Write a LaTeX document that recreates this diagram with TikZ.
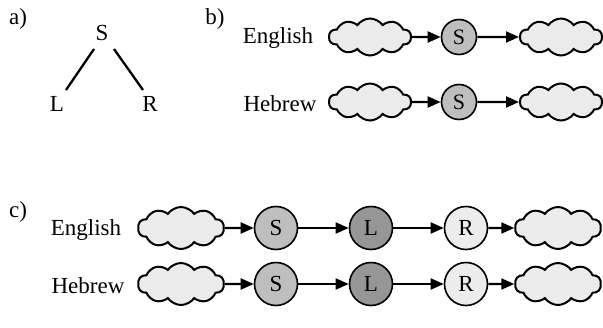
\documentclass[tikz,border=0pt]{standalone}
\usepackage{fontspec}
\setmainfont{Liberation Serif}
\usetikzlibrary{shapes.symbols,arrows.meta}
\definecolor{cloudfill}{RGB}{235,235,235}
\definecolor{sfill}{RGB}{190,190,190}
\definecolor{lfill}{RGB}{150,150,150}
\definecolor{rfill}{RGB}{236,236,236}
\begin{document}
\begin{tikzpicture}[x=1pt,y=-1pt,
  txt/.style={font=\fontsize{23}{26}\selectfont, inner sep=0pt},
  cloudbox/.style={cloud, cloud puffs=10, cloud puff arc=110, shape border rotate=18, cloud ignores aspect, draw, line width=2pt, fill=cloudfill, minimum width=82pt, minimum height=37pt, inner sep=0pt},
  cloudc/.style={cloudbox, minimum width=86pt, minimum height=42pt},
  circb/.style={circle, draw, line width=1.6pt, minimum size=35pt, inner sep=0pt, font=\fontsize{22}{24}\selectfont},
  circc/.style={circle, draw, line width=1.6pt, minimum size=43pt, inner sep=0pt, font=\fontsize{23}{24}\selectfont},
  arr/.style={line width=2.1pt, -{Triangle[length=13pt,width=11pt]}},
  tree/.style={line width=2.3pt}]
\useasboundingbox (0,0) rectangle (603,327);
% a)
\node[txt] (la) at (18,19) {a)};
\node[txt] (ts) at (102,33) {S};
\node[txt] (tl) at (57,104) {L};
\node[txt] (tr) at (150,104) {R};
\draw[tree] (94,49) -- (66,90);
\draw[tree] (114,49) -- (143,90);
% b)
\node[txt] (lb) at (215,19) {b)};
\node[txt] (be) at (278,38) {English};
\node[cloudbox] (bec1) at (370,37) {};
\node[circb, fill=sfill] (bes) at (459,37) {S};
\node[cloudbox] (bec2) at (561,37) {};
\draw[arr] (bec1.east) -- (bes);
\draw[arr] (bes) -- (bec2.west);
\node[txt] (bh) at (280,104) {Hebrew};
\node[cloudbox] (bhc1) at (370,102) {};
\node[circb, fill=sfill] (bhs) at (459,102) {S};
\node[cloudbox] (bhc2) at (561,102) {};
\draw[arr] (bhc1.east) -- (bhs);
\draw[arr] (bhs) -- (bhc2.west);
% c)
\node[txt] (lc) at (18,212) {c)};
\node[txt] (ce) at (86,230) {English};
\node[cloudc] (cec1) at (181,228) {};
\node[circc, fill=sfill] (ces) at (276,228) {S};
\node[circc, fill=lfill] (cel) at (371,228) {L};
\node[circc, fill=rfill] (cer) at (466,228) {R};
\node[cloudc] (cec2) at (558,228) {};
\draw[arr] (cec1.east) -- (ces);
\draw[arr] (ces) -- (cel);
\draw[arr] (cel) -- (cer);
\draw[arr] (cer) -- (cec2.west);
\node[txt] (ch) at (88,286) {Hebrew};
\node[cloudc] (chc1) at (181,284) {};
\node[circc, fill=sfill] (chs) at (276,284) {S};
\node[circc, fill=lfill] (chl) at (371,284) {L};
\node[circc, fill=rfill] (chr) at (466,284) {R};
\node[cloudc] (chc2) at (558,284) {};
\draw[arr] (chc1.east) -- (chs);
\draw[arr] (chs) -- (chl);
\draw[arr] (chl) -- (chr);
\draw[arr] (chr) -- (chc2.west);
\end{tikzpicture}
\end{document}
